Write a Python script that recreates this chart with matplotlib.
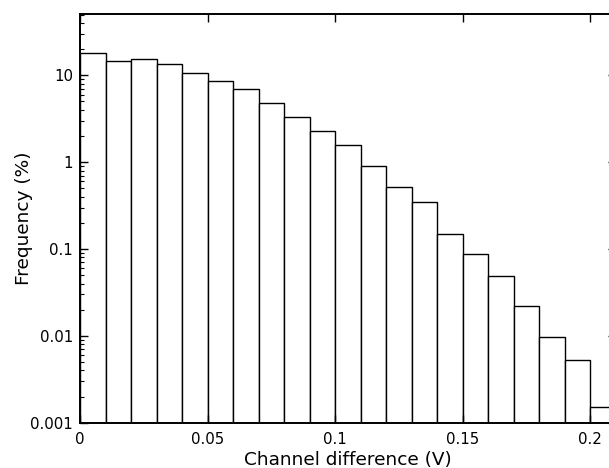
import matplotlib
matplotlib.use("Agg")
import matplotlib.pyplot as plt
import numpy as np
from matplotlib.ticker import FixedLocator, FixedFormatter, LogLocator, NullFormatter

# histogram of channel differences, 0.01 V bins
bin_left = [0.00, 0.01, 0.02, 0.03, 0.04, 0.05, 0.06, 0.07, 0.08, 0.09, 0.10,
            0.11, 0.12, 0.13, 0.14, 0.15, 0.16, 0.17, 0.18, 0.19, 0.20]
freq = [17.9, 14.5, 15.3, 13.4, 10.6, 8.67, 7.0, 4.83, 3.28, 2.28, 1.585,
        0.895, 0.516, 0.344, 0.149, 0.0873, 0.0483, 0.022, 0.00975, 0.00526, 0.0015]
bin_width = 0.01

xticks = [0, 0.05, 0.1, 0.15, 0.2]
xticklabels = ["0", "0.05", "0.1", "0.15", "0.2"]
yticks = [0.001, 0.01, 0.1, 1, 10]
yticklabels = ["0.001", "0.01", "0.1", "1", "10"]

fig = plt.figure(figsize=(6.09, 4.68), dpi=100)
# right edge of the axes runs past the figure, as in the original
ax = fig.add_axes([80 / 609, 45.3 / 468, 535.5 / 609, 408.7 / 468])

ax.bar(bin_left, freq, width=bin_width, align="edge", color="white",
       edgecolor="black", linewidth=1.0)

ax.set_yscale("log")
ax.set_xlim(0, 0.21)
ax.set_ylim(0.001, 50.8)

ax.xaxis.set_major_locator(FixedLocator(xticks))
ax.xaxis.set_major_formatter(FixedFormatter(xticklabels))
ax.yaxis.set_major_locator(FixedLocator(yticks))
ax.yaxis.set_major_formatter(FixedFormatter(yticklabels))
ax.yaxis.set_minor_locator(LogLocator(base=10, subs=np.arange(2, 10)))
ax.yaxis.set_minor_formatter(NullFormatter())

ax.tick_params(which="both", direction="in", top=True, right=True, labelsize=10.8)
ax.tick_params(which="major", length=6, width=1)
ax.tick_params(which="minor", length=3, width=0.8)
ax.tick_params(axis="x", pad=6.5)
ax.tick_params(axis="y", pad=5)
for s in ax.spines.values():
    s.set_linewidth(1.4)

ax.set_xlabel("Channel difference (V)", fontsize=13.3, labelpad=3)
ax.set_ylabel("Frequency (%)", fontsize=13.3)
# ylabel sits tight against the tick labels in the original
ax.yaxis.set_label_coords(-0.088, 0.5)

fig.savefig("out.png", dpi=100)
